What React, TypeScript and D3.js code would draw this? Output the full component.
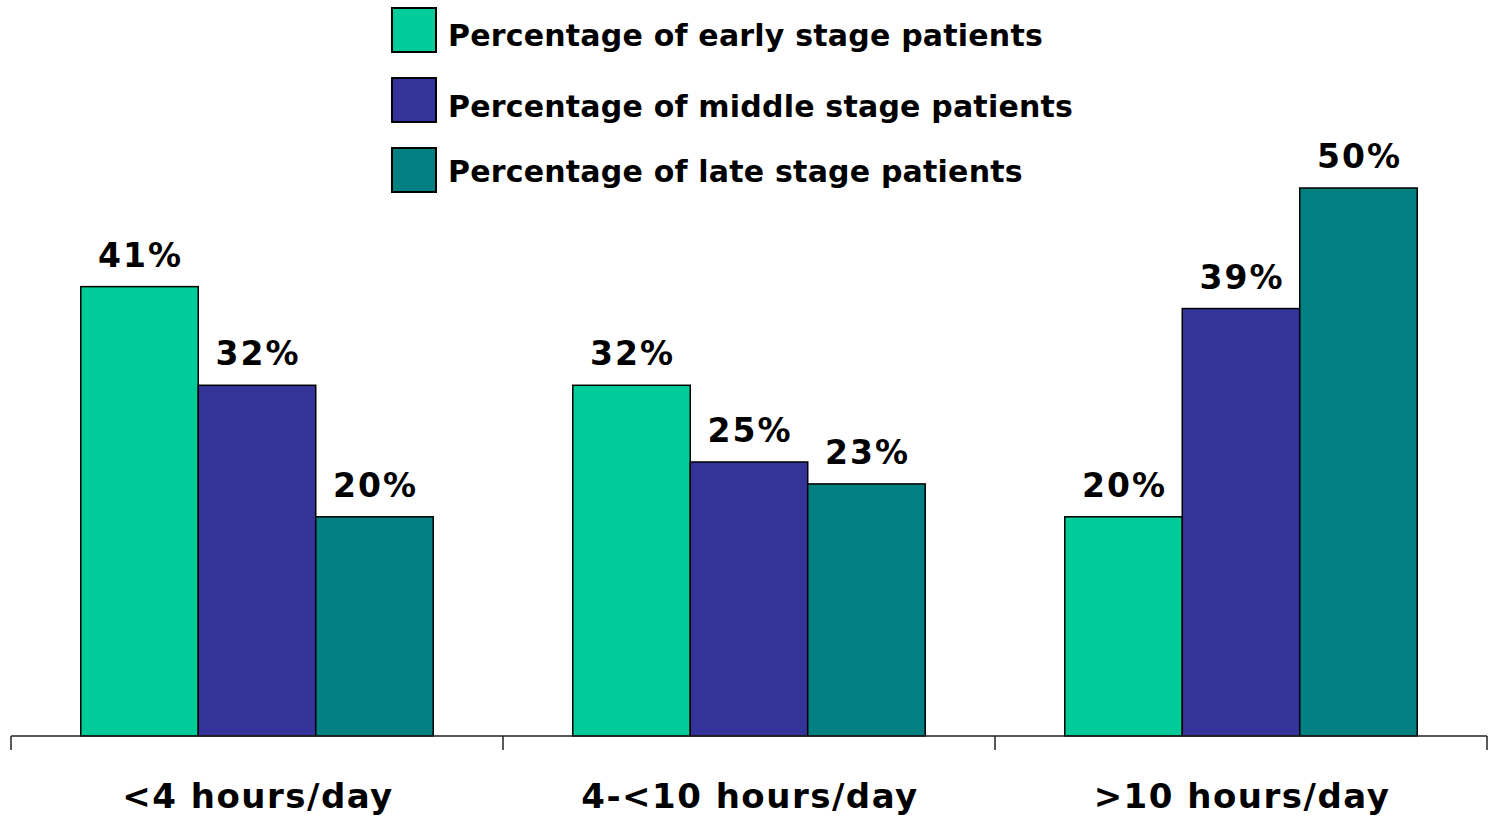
import React from "react";
import * as d3 from "d3";

const categories = ["<4 hours/day", "4-<10 hours/day", ">10 hours/day"];
const seriesNames = [
  "Percentage of early stage patients",
  "Percentage of middle stage patients",
  "Percentage of late stage patients",
];
const earlyValues = [41, 32, 20];
const middleValues = [32, 25, 39];
const lateValues = [20, 23, 50];
const seriesColors = ["#00CC99", "#333399", "#008080"];

const W = 1489;
const H = 818;
const FONT = "'DejaVu Sans', Verdana, sans-serif";

export default function App() {
  const seriesValues = [earlyValues, middleValues, lateValues];
  const x0 = d3.scaleBand<string>().domain(categories).range([11, 1487]).padding(0);
  const x1 = d3
    .scaleBand<string>()
    .domain(seriesNames)
    .range([0, x0.bandwidth()])
    .paddingInner(0)
    .paddingOuter(0.594);
  const y = d3.scaleLinear().domain([0, 50]).range([736, 188]);
  const ticks = [...categories.map((c) => x0(c) as number), 1487];

  return (
    <svg
      width={W}
      height={H}
      style={{ position: "absolute", left: 0, top: 0, background: "#fff" }}
      fontFamily={FONT}
    >
      {categories.map((c, ci) => (
        <g key={c} transform={`translate(${x0(c)},0)`}>
          {seriesNames.map((s, si) => {
            const v = seriesValues[si][ci];
            const bx = x1(s) as number;
            return (
              <g key={s}>
                <rect
                  x={bx}
                  y={y(v)}
                  width={x1.bandwidth()}
                  height={y(0) - y(v)}
                  fill={seriesColors[si]}
                  stroke="#000"
                  strokeWidth={1.5}
                />
                <text
                  x={bx + x1.bandwidth() / 2 + 1}
                  y={y(v) - 20}
                  textAnchor="middle"
                  fontSize={33}
                  fontWeight="bold"
                  letterSpacing={2}
                  fill="#000"
                >
                  {v}%
                </text>
              </g>
            );
          })}
        </g>
      ))}
      <line x1={11} x2={1487} y1={y(0)} y2={y(0)} stroke="#222" strokeWidth={1.5} />
      {ticks.map((t, i) => (
        <line key={i} x1={t} x2={t} y1={y(0)} y2={y(0) + 14} stroke="#222" strokeWidth={1.5} />
      ))}
      {categories.map((c) => (
        <text
          key={c}
          x={(x0(c) as number) + x0.bandwidth() / 2 + 1}
          y={808}
          textAnchor="middle"
          fontSize={34}
          fontWeight="bold"
          letterSpacing={1.5}
          fill="#000"
        >
          {c}
        </text>
      ))}
      {seriesNames.map((s, i) => {
        const top = 8 + i * 70;
        const baselines = [46, 117, 182];
        return (
          <g key={s}>
            <rect x={392} y={top} width={44} height={44} fill={seriesColors[i]} stroke="#000" strokeWidth={2} />
            <text x={448} y={baselines[i]} fontSize={30} fontWeight="bold" letterSpacing={0.2} fill="#000">
              {s}
            </text>
          </g>
        );
      })}
    </svg>
  );
}
